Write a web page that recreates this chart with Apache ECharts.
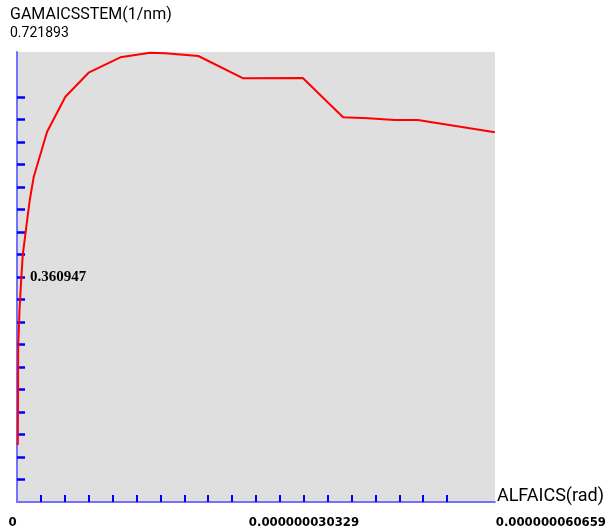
<!DOCTYPE html>
<html>
<head>
<meta charset="utf-8">
<script src="https://cdn.jsdelivr.net/npm/echarts@6/dist/echarts.min.js"></script>
<style>
html,body{margin:0;padding:0;background:#fff;}
#c{width:609px;height:531px;}
</style>
</head>
<body>
<div id="c"></div>
<script>
// ---- data ----
const X_NAME = 'ALFAICS(rad)';
const Y_NAME = 'GAMAICSSTEM(1/nm)';
const XMAX = 6.0659e-8;
const YMAX = 0.721893;
const X_LABELS = ['0', '0.000000030329', '0.000000060659'];
const Y_LABELS = ['0.360947', '0.721893'];
const ALFA = [0.10e-9, 0.13e-9, 0.15e-9, 0.32e-9, 0.53e-9, 0.73e-9, 1.08e-9, 1.62e-9, 2.13e-9, 3.82e-9, 6.14e-9, 9.09e-9, 13.11e-9, 16.91e-9, 18.81e-9, 23.02e-9, 28.72e-9, 36.28e-9, 41.39e-9, 44.55e-9, 47.93e-9, 50.88e-9, 60.659e-9];
const GAMA = [0.0914, 0.1636, 0.2487, 0.308, 0.356, 0.396, 0.4315, 0.4845, 0.5219, 0.594, 0.650, 0.6887, 0.7134, 0.7208, 0.7198, 0.7155, 0.6797, 0.6802, 0.6171, 0.6155, 0.6128, 0.6128, 0.5931];

const DIV = 20;
const xTicks = [], yTicks = [];
for (let k = 1; k <= 18; k++) { xTicks.push(XMAX * k / DIV); yTicks.push(YMAX * k / DIV); }
const xLabelVals = [0, XMAX / 2, XMAX];

const chart = echarts.init(document.getElementById('c'), null, {renderer: 'canvas'});
const GL = 17, GT = 52, GW = 478, GH = 450;
chart.setOption({
  animation: false,
  backgroundColor: '#ffffff',
  grid: {left: GL, top: GT, width: GW, height: GH, show: true, backgroundColor: '#dfdfdf', borderWidth: 0},
  xAxis: {
    type: 'value', min: 0, max: XMAX,
    name: X_NAME, nameLocation: 'end', nameGap: 2,
    nameTextStyle: {fontFamily: 'Roboto', fontSize: 18, color: '#000', align: 'left', verticalAlign: 'bottom', padding: [0, 0, -3, 0]},
    splitLine: {show: false},
    axisLine: {show: true, onZero: false, lineStyle: {color: '#7272ff', width: 2}},
    axisTick: {show: true, inside: true, length: 7, customValues: xTicks, lineStyle: {color: '#0000ff', width: 2}},
    axisLabel: {
      show: true, margin: 14, customValues: xLabelVals, align: 'center',
      fontFamily: 'DejaVu Sans Condensed', fontWeight: 'bold', fontSize: 13, color: '#000',
      formatter: function (v) {
        const i = xLabelVals.findIndex(t => Math.abs(t - v) < XMAX * 1e-6);
        return ['{a|', '{b|', '{c|'][i] + X_LABELS[i] + '}';
      },
      rich: {
        a: {padding: [0, 9, 0, 0], fontFamily: 'DejaVu Sans Condensed', fontWeight: 'bold', fontSize: 13},
        b: {padding: [0, 0, 0, 96], fontFamily: 'DejaVu Sans Condensed', fontWeight: 'bold', fontSize: 13},
        c: {padding: [0, 0, 0, 112], fontFamily: 'DejaVu Sans Condensed', fontWeight: 'bold', fontSize: 13}
      }
    }
  },
  yAxis: {
    type: 'value', min: 0, max: YMAX,
    splitLine: {show: false},
    axisLine: {show: true, onZero: false, lineStyle: {color: '#7272ff', width: 2}},
    axisTick: {show: true, inside: true, length: 8, customValues: yTicks, lineStyle: {color: '#0000ff', width: 2.5}},
    axisLabel: {
      show: true, inside: true, margin: 13, customValues: [YMAX / 2],
      fontFamily: 'Liberation Serif', fontWeight: 'bold', fontSize: 15, color: '#000',
      padding: [3, 0, 0, 0],
      formatter: function () { return Y_LABELS[0]; }
    }
  },
  graphic: [
    {type: 'text', left: 10, top: 7, style: {text: Y_NAME, font: '16px Roboto', fill: '#000'}},
    {type: 'text', left: 10, top: 26, style: {text: Y_LABELS[1], font: '14px Roboto', fill: '#000'}}
  ],
  series: [{
    type: 'line',
    data: ALFA.map((x, i) => [x, GAMA[i]]),
    showSymbol: false,
    lineStyle: {color: '#ff0000', width: 2},
    clip: false
  }]
});
</script>
</body>
</html>
